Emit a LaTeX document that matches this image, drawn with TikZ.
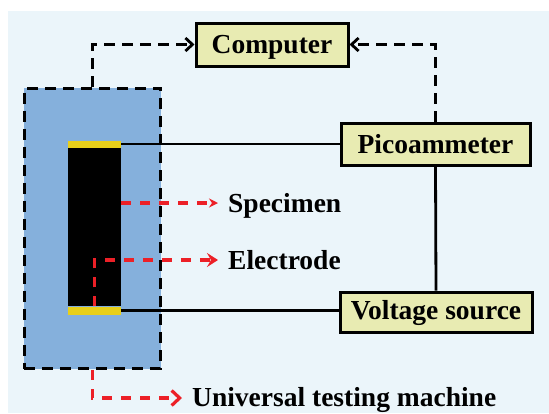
\documentclass[tikz,border=0pt]{standalone}
\usepackage{fontspec}
\setmainfont{Liberation Serif}
\usetikzlibrary{arrows.meta}
\definecolor{panelbg}{HTML}{EBF5FA}
\definecolor{machineblue}{HTML}{85B0DC}
\definecolor{boxyellow}{HTML}{E8EBB2}
\definecolor{electrodeyellow}{HTML}{E8CF1A}
\definecolor{leadred}{HTML}{EC2027}
\tikzset{
    instrument/.style={draw=black, line width=3pt, fill=boxyellow, inner sep=0pt, text height=18pt, text depth=0pt,
        font=\fontsize{27.5}{30}\selectfont\bfseries},
    partlabel/.style={anchor=west, inner ysep=0pt, inner xsep=10pt, text height=20pt, text depth=2pt,
        font=\fontsize{27.5}{30}\selectfont\bfseries},
    signal/.style={draw=black, line width=2.8pt, dash pattern=on 11pt off 7pt, -{Straight Barb[length=7pt,width=13pt]}},
    leader/.style={draw=leadred, line width=3.2pt, dash pattern=on 10pt off 9pt},
    wire/.style={draw=black, line width=2.8pt},
}
\begin{document}
\begin{tikzpicture}[x=1pt, y=-1pt]
    \useasboundingbox (0,0) rectangle (549,413);
    \fill[panelbg] (8,11) rectangle (549,413);

    \node[draw=black, fill=machineblue, line width=3pt, dash pattern=on 11pt off 7pt, minimum width=136.5pt, minimum height=280.5pt, inner sep=0pt] (machine) at (92.25,228.25) {};
    \node[fill=black, minimum width=53.5pt, minimum height=159pt, inner sep=0pt] (specimen) at (94.25,226.5) {};
    \node[fill=electrodeyellow, minimum width=53.5pt, minimum height=7pt, inner sep=0pt] (topelectrode) at (94.25,144) {};
    \node[fill=electrodeyellow, minimum width=53.5pt, minimum height=8pt, inner sep=0pt] (botelectrode) at (94.25,310.5) {};

    \node[instrument, minimum width=152pt, minimum height=43pt] (computer) at (272,44.5) {Computer};
    \node[instrument, minimum width=189pt, minimum height=42pt] (pico) at (435.5,144) {Picoammeter};
    \node[instrument, minimum width=192pt, minimum height=40pt, text depth=4pt] (voltage) at (436,312) {Voltage source};

    \node[partlabel] (speclabel) at (218,203) {Specimen};
    \node[partlabel] (eleclabel) at (218,260) {Electrode};
    \node[partlabel, text height=18pt, text depth=2pt] (utmlabel) at (182,398) {Universal testing machine};

    \draw[wire] (topelectrode.east) -- (pico.west);
    \draw[wire] (botelectrode.east) -- (voltage.west |- botelectrode.east);
    \draw[wire] (pico.south) -- (voltage.north);

    \draw[signal] (machine.north) |- (computer.west);
    \draw[signal] (pico.north) |- (computer.east);

    \draw[leader, -{Stealth[length=9pt,width=9pt]}] (specimen.east |- speclabel.west) -- (speclabel.west);
    \draw[leader, -{Stealth[length=11pt,width=14pt,inset=4pt]}] (botelectrode.north) |- (eleclabel.west);
    \draw[leader, -{Straight Barb[length=8pt,width=15pt]}] (machine.south) |- (utmlabel.west);
\end{tikzpicture}
\end{document}
